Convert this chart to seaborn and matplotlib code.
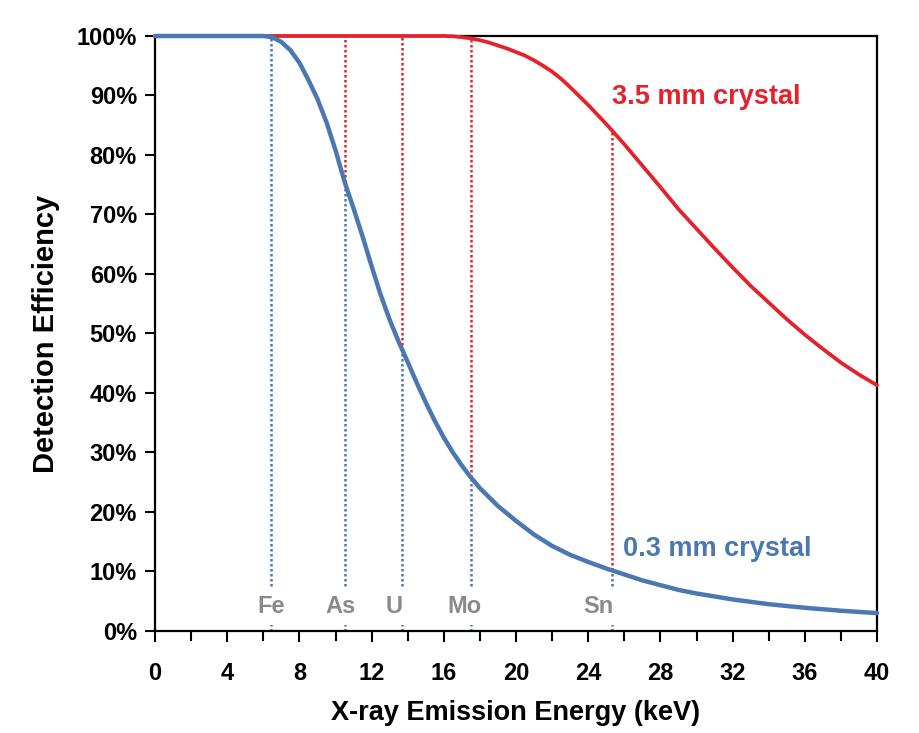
import numpy as np
import pandas as pd
import matplotlib
matplotlib.use("Agg")
import matplotlib.pyplot as plt
from matplotlib.ticker import MultipleLocator, FuncFormatter
import seaborn as sns

# energies (keV) and detection efficiency (%)
energy_thin = [0, 6, 6.5, 7, 7.5, 8, 8.5, 9, 9.5, 10, 10.5, 11, 11.5, 12, 12.5, 13, 13.5,
               14, 14.5, 15, 15.5, 16, 16.5, 17, 17.5, 18, 19, 20, 21, 22, 23, 24, 25, 26,
               27, 28, 29, 30, 32, 34, 36, 38, 40]
eff_thin = [100, 100, 99.8, 99.0, 97.6, 95.5, 92.6, 89.4, 85.5, 80.8, 75.5, 71.0, 66.3, 61.3,
            56.5, 52.3, 48.6, 45.2, 41.7, 38.4, 35.3, 32.5, 30.0, 27.8, 25.8, 24.0, 21.0,
            18.5, 16.2, 14.3, 12.8, 11.6, 10.5, 9.5, 8.5, 7.7, 6.9, 6.3, 5.3, 4.5, 3.9,
            3.4, 3.0]

energy_thick = [0, 16, 16.5, 17, 17.5, 18, 18.5, 19, 19.5, 20, 20.5, 21, 21.5, 22, 22.5, 23,
                23.5, 24, 25, 26, 27, 28, 29, 30, 31, 32, 33, 34, 35, 36, 37, 38, 39, 40]
eff_thick = [100, 100, 99.95, 99.8, 99.6, 99.3, 98.9, 98.4, 97.9, 97.3, 96.7, 95.9, 95.0,
             94.0, 92.8, 91.4, 89.9, 88.4, 85.2, 81.8, 78.2, 74.6, 70.9, 67.6, 64.3, 61.1,
             58.0, 55.2, 52.4, 49.8, 47.4, 45.1, 43.1, 41.3]

elements = ["Fe", "As", "U", "Mo", "Sn"]
element_energy = [6.4, 10.5, 13.7, 17.5, 25.3]
# which lines start at the 3.5 mm curve instead of the top
starts_on_thick = [False, False, False, False, True]

red = "#e3222b"
blue = "#4b78b0"
grey = "#8a8a8a"

sns.set_style("white")
plt.rcParams["font.family"] = ["Liberation Sans", "DejaVu Sans"]
plt.rcParams["text.color"] = "black"
plt.rcParams["axes.labelcolor"] = "black"
plt.rcParams["xtick.color"] = "black"
plt.rcParams["ytick.color"] = "black"

fig = plt.figure(figsize=(9.19, 7.33), dpi=100)
ax = fig.add_axes([0.1687, 0.1392, 0.7856, 0.8117])

df_thick = pd.DataFrame({"energy": energy_thick, "eff": eff_thick})
df_thin = pd.DataFrame({"energy": energy_thin, "eff": eff_thin})

# dotted element lines: red part above the 0.3 mm curve, blue part below
for name, e, on_thick in zip(elements, element_energy, starts_on_thick):
    y_thin = np.interp(e, energy_thin, eff_thin)
    y_top = np.interp(e, energy_thick, eff_thick) if on_thick else 100
    if y_top - y_thin > 0.5:
        ax.vlines(e, y_thin, y_top, colors=red, linestyles=(0, (1, 1)), lw=1.8, zorder=2)
    ax.vlines(e, 0, y_thin, colors=blue, linestyles=(0, (1, 1)), lw=1.8, zorder=2)

sns.lineplot(data=df_thick, x="energy", y="eff", color=red, lw=2.7, ax=ax, zorder=3,
             clip_on=False)
sns.lineplot(data=df_thin, x="energy", y="eff", color=blue, lw=3.2, ax=ax, zorder=4,
             clip_on=False)

label_shift = [0.05, -0.25, -0.45, -0.35, -0.75]
for name, e, dx in zip(elements, element_energy, label_shift):
    ax.text(e + dx, 4.1, name, ha="center", va="center", fontsize=17, fontweight="bold",
            color=grey, zorder=5,
            bbox=dict(facecolor="white", edgecolor="none", pad=5))

ax.text(25.3, 89.8, "3.5 mm crystal", color=red, fontsize=19.5, fontweight="bold",
        ha="left", va="center")
ax.text(25.9, 13.8, "0.3 mm crystal", color=blue, fontsize=19.5, fontweight="bold",
        ha="left", va="center")

ax.set_xlim(0, 40)
ax.set_ylim(0, 100)
ax.xaxis.set_major_locator(MultipleLocator(4))
ax.xaxis.set_minor_locator(MultipleLocator(2))
ax.yaxis.set_major_locator(MultipleLocator(10))
ax.yaxis.set_major_formatter(FuncFormatter(lambda v, p: f"{v:.0f}%"))

ax.tick_params(axis="x", which="major", direction="out", length=8, width=1.5, pad=14,
               labelsize=17, bottom=True)
ax.tick_params(axis="x", which="minor", direction="out", length=7, width=1.5, bottom=True)
ax.tick_params(axis="y", direction="out", length=7, width=1.5, pad=6, labelsize=17, left=True)
for lab in ax.get_xticklabels() + ax.get_yticklabels():
    lab.set_fontweight("bold")

for sp in ax.spines.values():
    sp.set_color("black")
    sp.set_linewidth(1.6)

ax.set_xlabel("X-ray Emission Energy (keV)", fontsize=19.5, fontweight="bold", labelpad=11)
ax.set_ylabel("Detection Efficiency", fontsize=21, fontweight="bold", labelpad=12)

fig.savefig("out.png", dpi=100)
